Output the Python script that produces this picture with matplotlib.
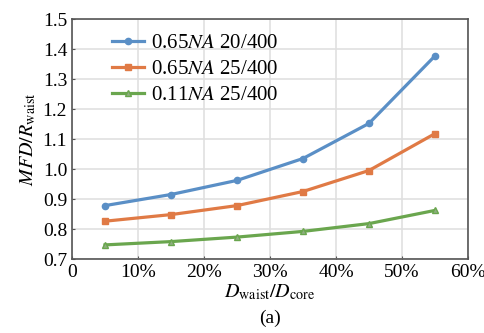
import matplotlib
matplotlib.use('Agg')
from matplotlib import pyplot as plt
from matplotlib.ticker import FuncFormatter

ratio = [5, 15, 25, 35, 45, 55]
na065_20 = [0.878, 0.915, 0.962, 1.035, 1.152, 1.377]
na065_25 = [0.826, 0.848, 0.878, 0.925, 0.995, 1.118]
na011_25 = [0.747, 0.758, 0.773, 0.792, 0.818, 0.862]
labels = ['0.65$NA$ 20/400', '0.65$NA$ 25/400', '0.11$NA$ 25/400']

plt.rcParams['font.family'] = 'Liberation Serif'
plt.rcParams['mathtext.fontset'] = 'stix'

fig = plt.figure(figsize=(4.85, 3.33), dpi=100)
ax = fig.add_axes([72 / 485, 1 - 259 / 333, 396 / 485, 240 / 333])

ax.plot(ratio, na065_20, color='#5a8fc6', marker='o', markersize=4.5, linewidth=2.3, label=labels[0])
ax.plot(ratio, na065_25, color='#e07a45', marker='s', markersize=4.5, linewidth=2.3, label=labels[1])
ax.plot(ratio, na011_25, color='#6aa64e', marker='^', markersize=5, linewidth=2.3,
        markerfacecolor='#8fae80', label=labels[2])

ax.set_xlim(0, 60)
ax.set_ylim(0.7, 1.5)
ax.set_xticks(range(0, 61, 10))
ax.set_yticks([0.7, 0.8, 0.9, 1.0, 1.1, 1.2, 1.3, 1.4, 1.5])
ax.xaxis.set_major_formatter(FuncFormatter(lambda v, p: '0' if v == 0 else f'{v:.0f}%'))
ax.yaxis.set_major_formatter(FuncFormatter(lambda v, p: f'{v:.1f}'))
ax.tick_params(labelsize=14, direction='in', length=2, color='#555555')
ax.grid(True, color='#e0e0e0', linewidth=1.2)
for s in ax.spines.values():
    s.set_color('#555555')
    s.set_linewidth(1.2)

ax.set_xlabel(r'$D_{\rm waist}/D_{\rm core}$', fontsize=14.5, labelpad=1)
ax.set_ylabel(r'$MFD/R_{\rm waist}$', fontsize=14.5, labelpad=3)
fig.text(0.5 * (72 + 468) / 485, 1 - 318 / 333, '(a)', ha='center', va='center', fontsize=14)

ax.legend(loc='upper left', frameon=False, fontsize=15, handlelength=1.5, handletextpad=0.35,
          labelspacing=0.3, borderaxespad=0.3, bbox_to_anchor=(0.065, 1.0))

fig.savefig('out.png', dpi=100)
